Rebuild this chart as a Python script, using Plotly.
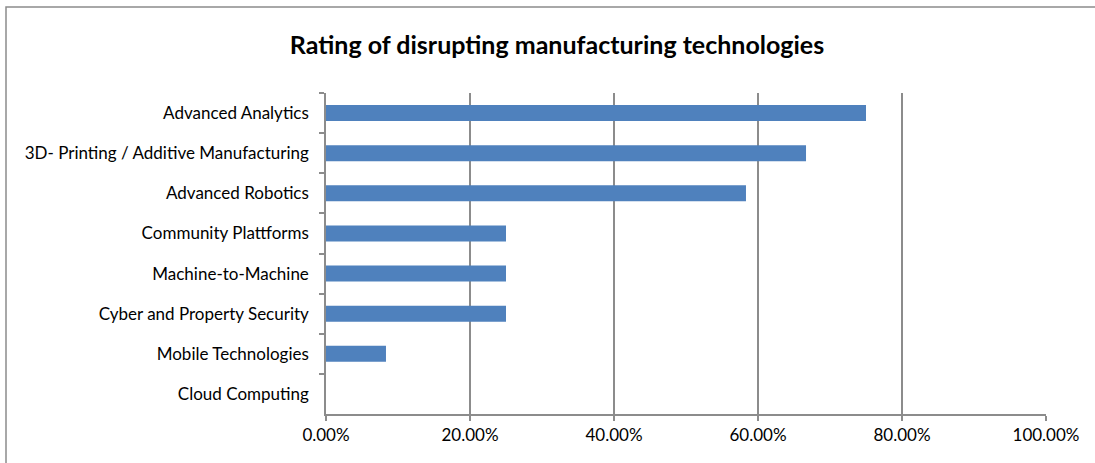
import plotly.graph_objects as go

categories = ["Advanced Analytics", "3D- Printing / Additive Manufacturing", "Advanced Robotics",
              "Community Plattforms", "Machine-to-Machine", "Cyber and Property Security",
              "Mobile Technologies", "Cloud Computing"]
values = [0.75, 0.6667, 0.5833, 0.25, 0.25, 0.25, 0.0833, 0.0]
tick_vals = [0, 0.2, 0.4, 0.6, 0.8, 1.0]
tick_text = ["0.00%", "20.00%", "40.00%", "60.00%", "80.00%", "100.00%"]

W, H = 1095, 463
L, R, T, B = 326, 49, 93, 49
pw, ph = W - L - R, H - T - B

fig = go.Figure(go.Bar(
    x=values, y=categories, orientation="h",
    marker=dict(color="#4F81BD", line=dict(width=0)),
    width=0.4, hoverinfo="x+y",
))

font_family = "Lato, 'Open Sans', sans-serif"
fig.update_layout(
    width=W, height=H,
    margin=dict(l=L, r=R, t=T, b=B, pad=0),
    paper_bgcolor="white", plot_bgcolor="white",
    showlegend=False,
    font=dict(family=font_family, size=17, color="#000000"),
    title=dict(text="<b>Rating of disrupting manufacturing technologies</b>",
               x=557 / W, xref="container", xanchor="center",
               y=1 - 45 / H, yref="container", yanchor="middle",
               font=dict(size=25, family=font_family, color="#000000")),
    xaxis=dict(range=[0, 1.0], tickvals=tick_vals, ticktext=tick_text,
               showgrid=True, gridcolor="#8C8C8C", gridwidth=1.5,
               showline=True, linecolor="#8C8C8C", linewidth=1.5,
               ticks="outside", ticklen=5, tickcolor="#8C8C8C", tickwidth=1.5,
               zeroline=False, tickfont=dict(size=17), fixedrange=True),
    yaxis=dict(categoryorder="array", categoryarray=categories,
               range=[len(categories) - 0.5, -0.5], autorange=False,
               showline=True, linecolor="#8C8C8C", linewidth=1.5,
               ticks="outside", ticklen=5, tickcolor="#8C8C8C", tickwidth=1.5,
               tickson="boundaries", showgrid=False, zeroline=False,
               tickfont=dict(size=17), ticklabelstandoff=12, fixedrange=True),
    shapes=[dict(type="rect", xref="paper", yref="paper",
                 x0=(6 - L) / pw, x1=(W + 10 - L) / pw,
                 y0=-(H + 10 - T - ph) / ph, y1=(H - 7 - B) / ph,
                 line=dict(color="#8C8C8C", width=1.5), fillcolor="rgba(0,0,0,0)",
                 layer="below")],
)

fig.write_html("out.html")
